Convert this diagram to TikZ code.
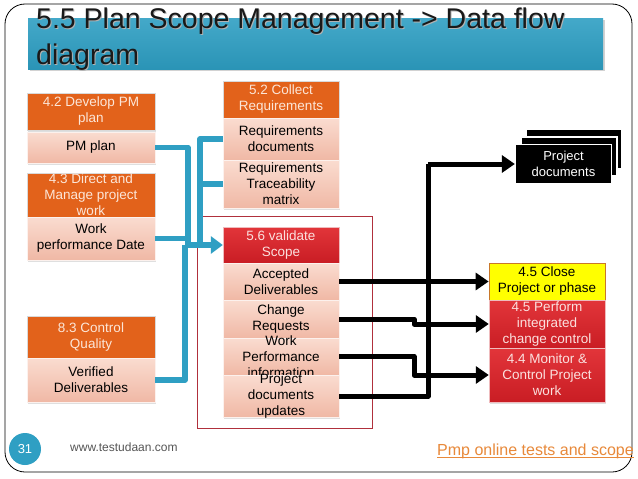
\documentclass[tikz,border=0pt]{standalone}
\usepackage{fontspec}
\setmainfont{Liberation Sans}
\usetikzlibrary{arrows.meta,shadows}
\definecolor{tealA}{HTML}{2F9FC3}
\definecolor{tealB}{HTML}{2A94B6}
\definecolor{orng}{HTML}{E2621B}
\definecolor{otext}{HTML}{FCE6D8}
\definecolor{pinkT}{HTML}{FADCD0}
\definecolor{pinkB}{HTML}{F0B8A5}
\definecolor{redT}{HTML}{E2353A}
\definecolor{redB}{HTML}{C91D24}
\definecolor{rtext}{HTML}{FBE0DE}
\definecolor{dkred}{HTML}{B0303C}
\definecolor{ylw}{HTML}{FFFF00}
\definecolor{ylwb}{HTML}{C8782A}
\definecolor{linkc}{HTML}{E8893A}
\definecolor{foot}{HTML}{555555}
\newcommand\bx[8]{%
  \node[#2,minimum width=#6pt,minimum height=#7pt] (#1) at (#4,#5) {};
  \node[#3] (#1t) at (#1.center) {#8};}
\begin{document}
\begin{tikzpicture}[x=1pt,y=-1pt,
  base/.style={rectangle,inner sep=0pt,
    drop shadow={opacity=0.25,shadow xshift=1.2pt,shadow yshift=-1.5pt}},
  ob/.style={base,fill=orng,draw=white!85!black,line width=0.4pt},
  pb/.style={base,top color=pinkT,bottom color=pinkB,draw=white!80!pinkB,line width=0.6pt},
  rb/.style={base,top color=redT,bottom color=redB,draw=white!70!redB,line width=0.4pt},
  yb/.style={base,fill=ylw,draw=ylwb,line width=0.7pt},
  txt/.style={align=center,inner sep=0pt,font=\fontsize{13.5}{16}\selectfont},
  tw/.style={txt,text=otext},
  tb/.style={txt,text=black},
  tr/.style={txt,text=rtext},
  ttl/.style={anchor=base west,inner sep=0pt,font=\fontsize{28.5}{35}\selectfont},
  pdoc/.style={rectangle,fill=black,draw=white,line width=1.3pt,minimum width=96pt,
    minimum height=39pt,align=center,text=white,font=\fontsize{13}{16}\selectfont},
  bl/.style={draw=tealA,line width=5.5pt,line join=round},
  blarr/.style={bl,-{Triangle[length=12pt,width=17pt]}},
  bk/.style={draw=black,line width=5pt,line join=round},
  bkarr/.style={bk,-{Triangle[length=13pt,width=17pt]}}]
\useasboundingbox (0,0) rectangle (638,479);
\fill[white] (0,0) rectangle (638,479);
% outer frame
\draw[black,line width=0.8pt,rounded corners=20pt] (5,4) rectangle (632,472);
% title bar
\node[rectangle,top color=tealA!90!white,bottom color=tealB,minimum width=575pt,minimum height=51pt,
  drop shadow={opacity=0.35,shadow xshift=2pt,shadow yshift=-2pt}] (tbar) at (315.5,43.5) {};
\node[ttl,text=black!30] (tsh) at (37,29) {5.5 Plan Scope Management -> Data flow};
\node[ttl,text=black!30] (tsh2) at (37,65) {diagram};
\node[ttl,text=black!90] (title) at (36,28) {5.5 Plan Scope Management -> Data flow};
\node[ttl,text=black!90] (title2) at (36,64) {diagram};
% left column
\bx{dev}{ob}{tw}{91}{111.5}{128}{37}{4.2 Develop PM\\plan}
\bx{pm}{pb}{tb}{91}{147.5}{128}{31}{PM plan}
\bx{dir}{ob}{tw}{91}{195}{128}{44}{4.3 Direct and\\Manage project\\work}
\bx{wp}{pb}{tb}{91}{238.5}{128}{43}{Work\\performance Date}
\bx{cq}{ob}{tw}{91}{337}{128}{42}{8.3 Control\\Quality}
\bx{ver}{pb}{tb}{91}{380}{128}{44}{Verified\\Deliverables}
% middle column (5.2)
\bx{coll}{ob}{tw}{281}{99.5}{116}{37}{5.2 Collect\\Requirements}
\bx{rd}{pb}{tb}{281}{139}{116}{42}{Requirements\\documents}
\bx{tr}{pb}{tb}{281}{184}{116}{48}{Requirements\\Traceability\\matrix}
% group outline
\node[rectangle,draw=dkred,line width=0.7pt,minimum width=175pt,minimum height=212pt] (grp) at (284.5,322) {};
% middle column (5.6)
\bx{val}{rb}{tr}{281}{245}{116}{36}{5.6 validate\\Scope}
\bx{acc}{pb}{tb}{281}{281.5}{116}{37}{Accepted\\Deliverables}
\bx{chg}{pb}{tb}{281}{319}{116}{38}{Change\\Requests}
\bx{wpi}{pb}{tb}{281}{356.5}{116}{37}{Work\\Performance\\information}
\bx{pdu}{pb}{tb}{281}{396}{116}{42}{Project\\documents\\updates}
% right column
\bx{close}{yb}{tb}{547}{281.5}{116}{37}{4.5 Close\\Project or phase}
\bx{pic}{rb}{tr}{547}{324}{116}{48}{4.5 Perform\\integrated\\change control}
\bx{mon}{rb}{tr}{547}{375}{116}{54}{4.4 Monitor \&\\Control Project\\work}
% project documents stack
\node[pdoc] (pd3) at (574,149) {};
\node[pdoc] (pd2) at (569,156.5) {};
\node[pdoc] (pd1) at (563.5,164) {Project\\documents};
% blue connectors
\coordinate (bj) at (185,245);
\coordinate (jpm) at (188,245);
\coordinate (jr) at (200,245);
\draw[bl] (pm.east) -| (jpm);
\draw[bl] (wp.east) -- (wp.east -| jpm);
\draw[bl] (ver.east) -| (bj);
\draw[bl] (rd.west) -| (jr);
\draw[bl] (tr.west) -- (tr.west -| jr);
\draw[blarr] (bj) -- (val.west);
% black connectors
\coordinate (kx) at (414,300);
\coordinate (pdtop) at (428,164);
\draw[bk] (pdu.east) -| (pdtop);
\draw[bkarr] (pdtop) -- (pd1.west);
\draw[bkarr] (acc.east) -- (close.west);
\draw[bkarr] (chg.east) -- (chg.east -| kx) |- (pic.west);
\draw[bkarr] (wpi.east) -- (wpi.east -| kx) |- (mon.west);
% footer
\node[circle,fill=tealA,minimum size=32pt,inner sep=0pt,text=white,font=\fontsize{13}{15}\selectfont] (pg) at (25,449) {31};
\node[anchor=west,inner sep=0pt,text=foot,font=\fontsize{12}{14}\selectfont] (web) at (70,447) {www.testudaan.com};
\node[anchor=base west,inner sep=0pt,text=linkc,font=\fontsize{16}{18}\selectfont] (link) at (437,455.5) {Pmp online tests and scope};
\draw[linkc,line width=0.8pt] ([yshift=-2pt]link.base west) -- ([yshift=-2pt]link.base east);
\end{tikzpicture}
\end{document}
